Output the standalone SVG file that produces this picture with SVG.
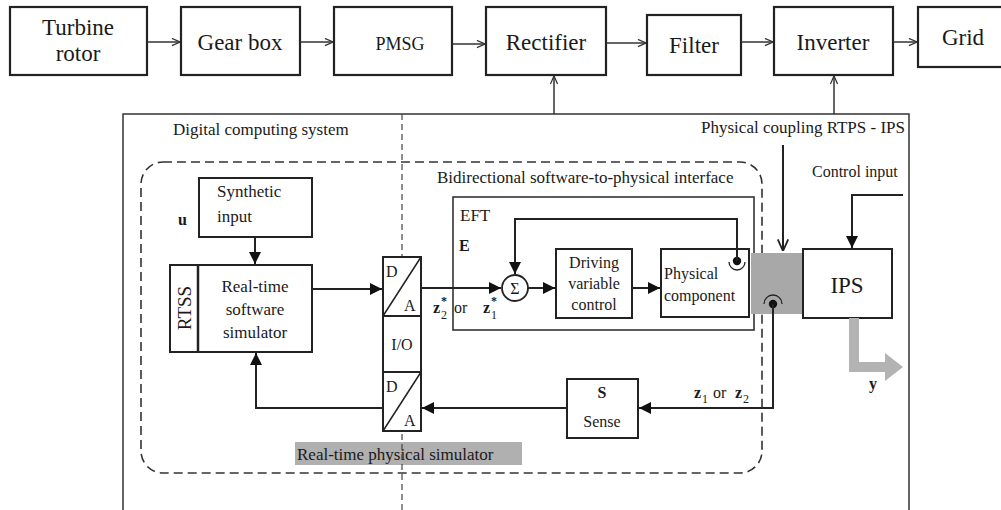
<svg xmlns="http://www.w3.org/2000/svg" width="1001" height="510" viewBox="0 0 1001 510" font-family="'Liberation Serif', 'DejaVu Serif', serif">
<style>
text{font-family:'Liberation Serif','DejaVu Serif',serif;fill:#1a1a1a}
.box{fill:#fff;stroke:#222;stroke-width:2}
.tbox{fill:#fff;stroke:#222;stroke-width:2.2}
.ln{fill:none;stroke:#222;stroke-width:2}
.thin{fill:none;stroke:#333;stroke-width:1.5}
.big{font-size:23px}
.mid{font-size:17px}
.sm{font-size:16px}
.b{font-weight:bold}
.c{text-anchor:middle}
</style>
<defs>
<marker id="fa2" viewBox="0 0 10 10" refX="10" refY="5" markerWidth="12" markerHeight="12" markerUnits="userSpaceOnUse" orient="auto"><path d="M0,0 L10,5 L0,10 Z" fill="#111"/></marker>
<marker id="oa" viewBox="0 0 10 10" refX="10" refY="5" markerWidth="9" markerHeight="9" markerUnits="userSpaceOnUse" orient="auto"><path d="M1,1 L10,5 L1,9" fill="none" stroke="#333" stroke-width="1.4"/></marker>
<marker id="oa2" viewBox="0 0 10 10" refX="10" refY="5" markerWidth="13" markerHeight="13" markerUnits="userSpaceOnUse" orient="auto"><path d="M1,1 L10,5 L1,9" fill="none" stroke="#222" stroke-width="1.4"/></marker>
</defs>
<rect width="1001" height="510" fill="#fff"/>

<!-- containers -->
<g id="container">
<path d="M123,510 V114 H909 V510" class="thin"/>
<text x="173" y="135" class="mid">Digital computing system</text>
<rect x="141" y="162" width="621" height="311" rx="22" fill="none" stroke="#333" stroke-width="1.6" stroke-dasharray="9,5"/>
<text x="437" y="183" class="mid">Bidirectional software-to-physical interface</text>
<text x="905" y="133" class="mid" text-anchor="end">Physical coupling RTPS - IPS</text>
<text x="812" y="177" class="sm">Control input</text>
</g>

<g id="eft">
<rect x="453" y="197" width="301" height="133" fill="none" stroke="#333" stroke-width="1.6"/>
<text x="460" y="221" class="mid">EFT</text>
<text x="459" y="251" class="sm b">E</text>
</g>

<g id="rtps-label">
<rect x="295" y="442" width="227" height="23" fill="#b0b0b0"/>
<text x="297" y="460" class="mid">Real-time physical simulator</text>
</g>

<path d="M402,114 V510" fill="none" stroke="#444" stroke-width="1.2" stroke-dasharray="6,4"/>

<!-- top row -->
<g id="turbine"><rect x="10" y="7" width="137" height="68" class="tbox"/><text x="78" y="35" class="big c">Turbine</text><text x="78" y="61" class="big c">rotor</text></g>
<g id="gearbox"><rect x="181" y="7" width="119" height="68" class="tbox"/><text x="240" y="50" class="big c">Gear box</text></g>
<g id="pmsg"><rect x="334" y="7" width="118" height="68" class="tbox"/><text x="400" y="50" class="c" style="font-size:18px">PMSG</text></g>
<g id="rectifier"><rect x="486" y="7" width="120" height="68" class="tbox"/><text x="546" y="50" class="big c">Rectifier</text></g>
<g id="filter"><rect x="647" y="15" width="94" height="60" class="tbox"/><text x="694" y="53" class="big c">Filter</text></g>
<g id="inverter"><rect x="774" y="7" width="119" height="68" class="tbox"/><text x="833" y="50" class="big c">Inverter</text></g>
<g id="grid"><rect x="918" y="7" width="95" height="60" class="tbox"/><text x="963" y="45" class="big c">Grid</text></g>

<!-- inner nodes -->
<g id="synthetic"><rect x="199" y="178" width="113" height="59" class="box"/><text x="217" y="197" class="mid">Synthetic</text><text x="217" y="222" class="mid">input</text><text x="178" y="225" class="sm b">u</text></g>
<g id="rtss">
<rect x="170" y="265" width="142" height="87" class="box"/>
<line x1="198" y1="265" x2="198" y2="352" stroke="#222" stroke-width="2.5"/>
<text transform="translate(191,308) rotate(-90)" class="c" style="font-size:19px">RTSS</text>
<text x="255" y="292" class="mid c">Real-time</text><text x="255" y="315" class="mid c">software</text><text x="255" y="338" class="mid c">simulator</text>
</g>
<g id="io">
<rect x="383" y="257" width="38" height="174" class="box"/>
<line x1="383" y1="316" x2="421" y2="316" stroke="#222" stroke-width="2"/>
<line x1="383" y1="372" x2="421" y2="372" stroke="#222" stroke-width="2"/>
<line x1="383" y1="316" x2="421" y2="257" stroke="#222" stroke-width="1.5"/>
<line x1="383" y1="431" x2="421" y2="372" stroke="#222" stroke-width="1.5"/>
<text x="386" y="277" class="sm">D</text><text x="404" y="311" class="sm">A</text>
<text x="402" y="350" class="sm c">I/O</text>
<text x="386" y="392" class="sm">D</text><text x="404" y="426" class="sm">A</text>
</g>
<g id="sum"><circle cx="515" cy="288" r="13" fill="#fff" stroke="#222" stroke-width="1.8"/><text x="515" y="294" class="c" style="font-size:16px">Σ</text></g>
<g id="driving"><rect x="556" y="249" width="76" height="69" class="box"/><text x="594" y="268" class="sm c">Driving</text><text x="594" y="289" class="sm c">variable</text><text x="594" y="310" class="sm c">control</text></g>
<g id="physical"><rect x="661" y="249" width="88" height="68" class="box"/><text x="664" y="279" class="sm">Physical</text><text x="664" y="301" class="sm">component</text></g>
<g id="coupling"><rect x="751" y="253" width="52" height="61" fill="#a8a8a8"/></g>
<g id="ips"><rect x="803" y="249" width="89" height="69" class="box"/><text x="847" y="293" class="c" style="font-size:23px">IPS</text></g>
<g id="sense"><rect x="567" y="379" width="71" height="59" class="box"/><text x="602" y="398" class="sm b c">S</text><text x="602" y="427" class="sm c">Sense</text></g>

<!-- ports -->
<g id="ports">
<circle cx="737" cy="261" r="4.2" fill="#111"/>
<path d="M729,262 A8,8 0 0 0 745,262" fill="none" stroke="#222" stroke-width="1.3"/>
<circle cx="773" cy="304" r="4.2" fill="#111"/>
<path d="M764,304 A9,9 0 0 1 782,304" fill="none" stroke="#222" stroke-width="1.3"/>
</g>

<!-- labels -->
<g id="labels">
<text x="433" y="313" class="sm b">z</text><text x="441" y="319" style="font-size:12px">2</text><text x="441" y="305" class="b" style="font-size:12px">*</text>
<text x="454" y="313" class="sm">or</text>
<text x="483" y="313" class="sm b">z</text><text x="491" y="319" style="font-size:12px">1</text><text x="491" y="305" class="b" style="font-size:12px">*</text>
<text x="694" y="398" class="sm b">z</text><text x="702" y="403" style="font-size:12px">1</text>
<text x="713" y="398" class="sm">or</text>
<text x="735" y="398" class="sm b">z</text><text x="743" y="403" style="font-size:12px">2</text>
<text x="869" y="389" class="sm b">y</text>
</g>

<!-- connectors -->
<g id="connectors">
<line x1="147" y1="42" x2="180" y2="42" class="thin" marker-end="url(#oa)"/>
<line x1="300" y1="42" x2="333" y2="42" class="thin" marker-end="url(#oa)"/>
<line x1="452" y1="44" x2="485" y2="44" class="thin" marker-end="url(#oa)"/>
<line x1="606" y1="43" x2="646" y2="43" class="thin" marker-end="url(#oa)"/>
<line x1="741" y1="42" x2="773" y2="42" class="thin" marker-end="url(#oa)"/>
<line x1="893" y1="42" x2="917" y2="42" class="thin" marker-end="url(#oa)"/>
<line x1="554" y1="114" x2="554" y2="76" class="thin" marker-end="url(#oa)"/>
<line x1="834" y1="114" x2="834" y2="76" class="thin" marker-end="url(#oa)"/>

<line x1="255" y1="237" x2="255" y2="264" class="ln" marker-end="url(#fa2)"/>
<line x1="312" y1="289" x2="382" y2="289" class="ln" marker-end="url(#fa2)"/>
<line x1="421" y1="288" x2="501" y2="288" class="ln" marker-end="url(#fa2)"/>
<path d="M737,261 V219 H515 V274" class="ln" marker-end="url(#fa2)"/>
<line x1="528" y1="288" x2="555" y2="288" class="ln" marker-end="url(#fa2)"/>
<line x1="632" y1="288" x2="660" y2="288" class="ln" marker-end="url(#fa2)"/>
<path d="M773,304 V408 H639" class="ln" marker-end="url(#fa2)"/>
<line x1="567" y1="408" x2="422" y2="408" class="ln" marker-end="url(#fa2)"/>
<path d="M383,408 H256 V353" class="ln" marker-end="url(#fa2)"/>
<line x1="783" y1="145" x2="783" y2="251" class="ln" marker-end="url(#oa2)"/>
<path d="M903,195 H852 V248" class="ln" marker-end="url(#fa2)"/>
<path d="M849,318 H859 V362 H885 V353 L903,367 L885,381 V372 H849 Z" fill="#b3b3b3"/>
</g>
</svg>
